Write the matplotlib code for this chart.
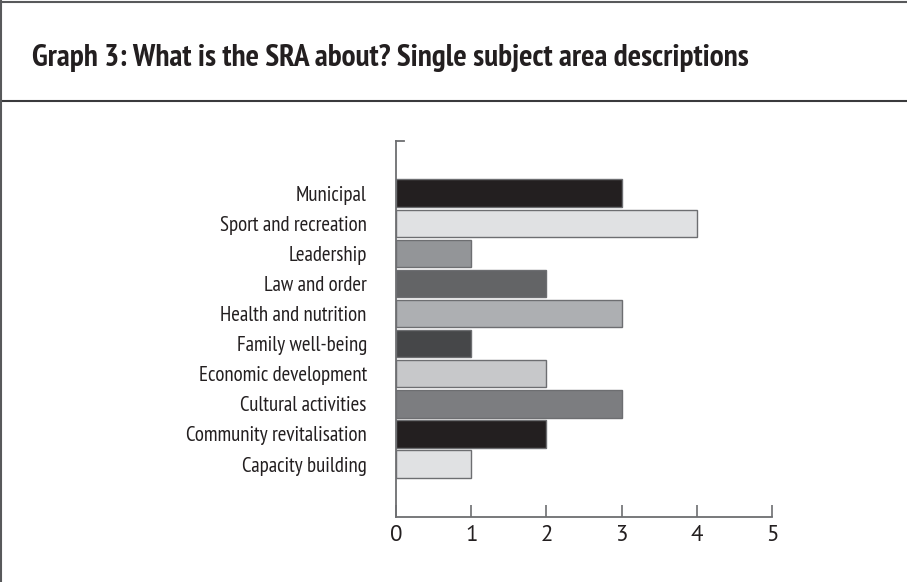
import matplotlib
matplotlib.use("agg")
import matplotlib.pyplot as plt
from matplotlib.lines import Line2D

categories = [
    "Capacity building",
    "Community revitalisation",
    "Cultural activities",
    "Economic development",
    "Family well-being",
    "Health and nutrition",
    "Law and order",
    "Leadership",
    "Sport and recreation",
    "Municipal",
]
counts = [1, 2, 3, 2, 1, 3, 2, 1, 4, 3]
bar_colors = ["#e0e1e3", "#231f20", "#7c7d80", "#c7c8ca", "#464749",
              "#adafb2", "#636466", "#939598", "#e0e1e3", "#231f20"]
xticks = [0, 1, 2, 3, 4, 5]
title = "Graph 3: What is the SRA about? Single subject area descriptions"

plt.rcParams["font.family"] = ["PT Sans Narrow", "DejaVu Sans"]
edge = "#6d6e71"
text_col = "#231f20"

fig = plt.figure(figsize=(9.07, 5.82), dpi=100)
ax = fig.add_axes([0.4366, 0.1122, 0.4146, 0.646])

ypos = list(range(len(categories)))
ax.barh(ypos, counts, height=0.91, color=bar_colors, edgecolor=edge, linewidth=1.0)
ax.set_xlim(0, 5)
ax.set_ylim(-1.75, 10.74)
ax.set_yticks(ypos)
ax.set_yticklabels(categories, fontsize=15, color=text_col)
ax.tick_params(axis="y", length=0, pad=21)
ax.set_xticks(xticks)
ax.set_xticklabels([str(t) for t in xticks], fontsize=16.5, color=text_col,
                   family=["PT Sans", "DejaVu Sans"])
ax.tick_params(axis="x", direction="in", length=9, width=1.2, color=edge, pad=6)

for s in ["top", "right"]:
    ax.spines[s].set_visible(False)
for s in ["left", "bottom"]:
    ax.spines[s].set_color(edge)
    ax.spines[s].set_linewidth(1.3)
ax.plot([0, 0.022], [1, 1], transform=ax.transAxes, color=edge, lw=1.3, clip_on=False)

# frame lines
fig.add_artist(Line2D([0, 1], [1 - 2 / 582, 1 - 2 / 582], color="#58595b", lw=1.5))
fig.add_artist(Line2D([0, 1], [1 - 101 / 582, 1 - 101 / 582], color="#3a3a3c", lw=1.5))
fig.add_artist(Line2D([1 / 907, 1 / 907], [0, 1], color="#58595b", lw=1.5))

fig.text(32 / 907, 1 - 66 / 582, title, fontsize=22.6, fontweight="bold",
         color=text_col, va="baseline", ha="left")

fig.savefig("out.png", dpi=100)
